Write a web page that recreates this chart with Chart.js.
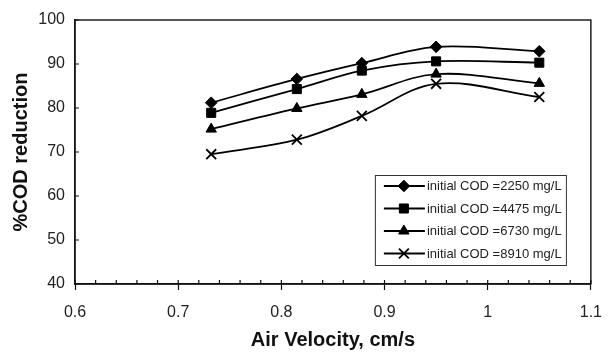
<!DOCTYPE html>
<html>
<head>
<meta charset="utf-8">
<script src="https://cdn.jsdelivr.net/npm/chart.js@4.4.0/dist/chart.umd.min.js"></script>
<style>
    html, body { margin: 0; padding: 0; background: #fff; }
    #wrap { width: 615px; height: 352px; }
</style>
</head>
<body>
<div id="wrap"><canvas id="myChart"></canvas></div>
<script>
const airVelocity = [0.732, 0.815, 0.878, 0.95, 1.05];
const cod2250 = [81.2, 86.6, 90.2, 93.9, 92.9];
const cod4475 = [78.9, 84.3, 88.5, 90.6, 90.3];
const cod6730 = [75.2, 79.9, 83.1, 87.7, 85.6];
const cod8910 = [69.5, 72.8, 78.2, 85.5, 82.5];
const seriesLabels = ['initial COD =2250 mg/L', 'initial COD =4475 mg/L', 'initial COD =6730 mg/L', 'initial COD =8910 mg/L'];
const markers = ['rectRot', 'rect', 'triangle', 'crossRot'];
const markerSizes = [5.8, 6.4, 6, 7];

const allSeries = [cod2250, cod4475, cod6730, cod8910];

const datasets = allSeries.map(function (values, i) {
    return {
        label: seriesLabels[i],
        data: airVelocity.map(function (v, j) { return { x: v, y: values[j] }; }),
        borderColor: '#000',
        backgroundColor: '#000',
        borderWidth: 1.8,
        pointStyle: markers[i],
        pointRadius: markerSizes[i],
        pointBorderWidth: i === 3 ? 1.8 : 1,
        tension: 0.35,
        fill: false,
    };
});

// frame around plot + inward ticks
const frameTicks = {
    id: 'frameTicks',
    afterDraw(chart) {
        const ctx = chart.ctx;
        const a = chart.chartArea;
        const xs = chart.scales.x, ys = chart.scales.y;
        ctx.save();
        ctx.strokeStyle = '#111';
        ctx.lineWidth = 1.4;
        ctx.strokeRect(a.left, a.top, a.right - a.left, a.bottom - a.top);
        ctx.lineWidth = 1.2;
        ctx.beginPath();
        for (let k = 0; k <= 25; k++) {
            const px = xs.getPixelForValue(xs.min + k * 0.02);
            ctx.moveTo(px, a.bottom);
            ctx.lineTo(px, a.bottom - 4);
        }
        for (let v = ys.min; v <= ys.max; v += 10) {
            const py = ys.getPixelForValue(v);
            ctx.moveTo(a.left, py);
            ctx.lineTo(a.left + 4, py);
        }
        ctx.stroke();
        ctx.restore();
    }
};

// legend box inside the plot
const boxLegend = {
    id: 'boxLegend',
    afterDraw(chart) {
        const ctx = chart.ctx;
        const a = chart.chartArea;
        const w = 191, h = 90;
        const x0 = a.right - 25 - w;
        const y0 = a.bottom - 19 - h;
        ctx.save();
        ctx.fillStyle = '#fff';
        ctx.fillRect(x0, y0, w, h);
        ctx.strokeStyle = '#333';
        ctx.lineWidth = 1;
        ctx.strokeRect(x0 + 0.5, y0 + 0.5, w, h);
        chart.data.datasets.forEach(function (ds, i) {
            const y = y0 + 11 + i * 22.5;
            ctx.strokeStyle = '#000';
            ctx.fillStyle = '#000';
            ctx.lineWidth = 1.8;
            ctx.beginPath();
            ctx.moveTo(x0 + 9, y);
            ctx.lineTo(x0 + 50, y);
            ctx.stroke();
            ctx.lineWidth = ds.pointBorderWidth;
            Chart.helpers.drawPoint(ctx, { pointStyle: ds.pointStyle, radius: ds.pointRadius, rotation: 0, borderWidth: ds.pointBorderWidth }, x0 + 29, y);
            ctx.fillStyle = '#222';
            ctx.font = '13px "Liberation Sans", Arial, sans-serif';
            ctx.textAlign = 'left';
            ctx.textBaseline = 'middle';
            ctx.fillText(ds.label, x0 + 52, y + 0.5);
        });
        ctx.restore();
    }
};

const ctx = document.getElementById('myChart').getContext('2d');
const myChart = new Chart(ctx, {
    type: 'line',
    data: { datasets: datasets },
    plugins: [frameTicks, boxLegend],
    options: {
        responsive: true,
        maintainAspectRatio: false,
        animation: false,
        layout: { padding: { top: 20, right: 22, left: 0, bottom: 0 } },
        plugins: {
            legend: { display: false },
            tooltip: { enabled: false },
        },
        scales: {
            x: {
                type: 'linear',
                min: 0.6,
                max: 1.1,
                ticks: {
                    stepSize: 0.1,
                    padding: 13,
                    color: '#222',
                    font: { family: '"Liberation Sans", Arial, sans-serif', size: 16 },
                    callback: function (v) { return String(Math.round(v * 10) / 10); },
                },
                grid: { drawOnChartArea: false, drawTicks: true, tickLength: 6, tickColor: '#111', tickWidth: 1.2 },
                border: { display: true, color: '#111', width: 1.4 },
                title: {
                    display: true,
                    text: 'Air Velocity, cm/s',
                    color: '#111',
                    padding: { top: 0, bottom: 0 },
                    font: { family: '"Liberation Sans", Arial, sans-serif', size: 20, weight: 'bold' },
                },
                afterFit: function (scale) { scale.height = 68; },
            },
            y: {
                min: 40,
                max: 100,
                ticks: {
                    stepSize: 10,
                    padding: 10,
                    color: '#222',
                    font: { family: '"Liberation Sans", Arial, sans-serif', size: 16 },
                },
                grid: { display: false, drawTicks: false },
                border: { display: true, color: '#111', width: 1.4 },
                title: {
                    display: true,
                    text: '%COD reduction',
                    color: '#111',
                    padding: { top: 9, bottom: 0 },
                    font: { family: '"Liberation Sans", Arial, sans-serif', size: 20, weight: 'bold' },
                },
                afterFit: function (scale) { scale.width = 75; },
            },
        },
    },
});
</script>
</body>
</html>
